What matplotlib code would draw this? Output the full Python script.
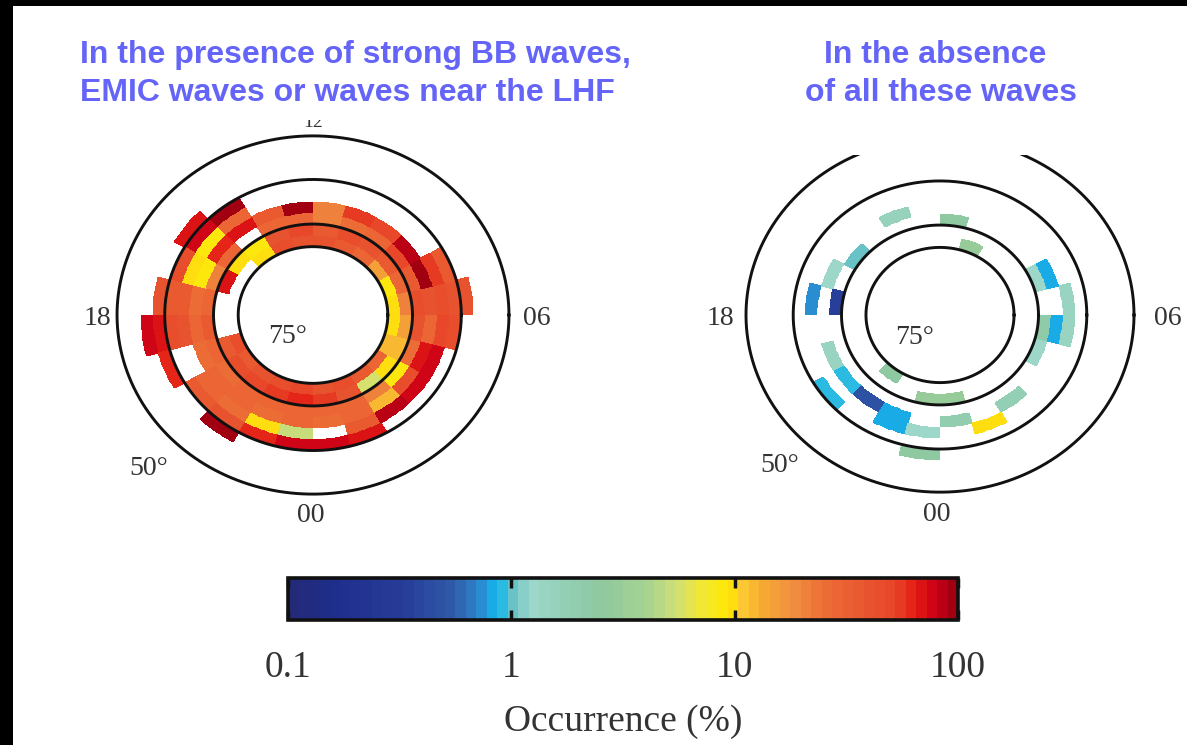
import numpy as np
import matplotlib
matplotlib.use("Agg")
import matplotlib.pyplot as plt
from matplotlib.colors import LinearSegmentedColormap, LogNorm
from matplotlib.patches import Rectangle
from matplotlib.ticker import FixedLocator, FixedFormatter, NullLocator

N = np.nan

# ---------------- data ----------------
mlt_hours = list(range(24))                        # MLT bins [h, h+1)
lat_edges = [75, 72.5, 70, 67.5, 65, 62.5, 60, 57.5, 55]   # invariant latitude bin edges
circle_lats = [75, 70, 60, 50]
lat_labels = ["75°", "50°"]
mlt_labels = ["00", "06", "12", "18"]

# occurrence (%) with strong BB / EMIC / LHF waves; rows: 72.5-75, 70-72.5, ..., 55-57.5
occ_with = [
    [40, 45, 35, 30, 12, 10, 10, 9, 15, 30, 35, 40, 40, 45, 10, N, N, N, N, 45, 35, 40, 45, 50],
    [55, 40, 6, 10, 12, 15, 20, 30, 35, 40, 45, 35, 50, 40, 9, 10, 70, N, N, 35, 45, 50, 55, 60],
    [30, 28, 20, 9, 25, 40, 45, 35, 50, 28, 25, 20, 30, 28, N, 28, 22, 30, 35, 30, 25, 28, 30, 28],
    [25, 30, 12, 45, 70, 30, 40, 90, 85, 50, 55, 22, 90, 35, 70, 60, 9, 25, 30, 25, 30, 28, 25, 28],
    [N, 35, 85, 75, 80, 50, 45, 55, N, N, N, N, N, N, 30, 9, 10, 35, 40, N, 30, 25, 10, 5],
    [75, 70, N, N, N, 45, 40, 35, N, N, N, N, N, N, 90, 80, 45, 35, 45, N, 35, 40, 60, 75],
    [N, N, N, N, N, N, 40, N, N, N, N, N, N, N, N, 70, N, 40, 65, 60, N, 95, N, N],
    [N, N, N, N, N, N, N, N, N, N, N, N, N, N, N, N, N, N, 75, N, N, N, N, N],
]

# occurrence (%) in the absence of these waves
occ_without = [
    [N, N, N, N, N, N, N, N, N, N, 3, N, N, N, N, N, N, N, N, N, N, 2.5, N, N],
    [3, N, N, N, N, N, N, N, N, N, N, N, N, N, N, N, N, N, N, N, N, N, N, 3],
    [N, N, N, N, 1.3, 2.2, N, 1.2, N, N, N, 2.5, N, N, N, 1.0, N, 0.35, N, N, N, N, N, N],
    [2.0, N, 1.8, N, N, 0.85, N, 0.85, N, N, N, N, N, 1.6, N, N, 1.3, N, N, 1.4, 0.9, 0.5, 0.8, N],
    [N, 10, N, N, N, 1.4, 1.4, N, N, N, N, N, N, N, N, N, N, 0.7, N, N, N, N, 0.8, 1.3],
    [N, N, N, N, N, N, N, N, N, N, N, N, N, N, N, N, N, N, N, N, 0.9, N, N, N],
    [N, N, N, N, N, N, N, N, N, N, N, N, N, N, N, N, N, N, N, N, N, N, N, 2.5],
    [N] * 24,
]

cbar_ticks = [0.1, 1, 10, 100]
cbar_ticklabels = ["0.1", "1", "10", "100"]

titles_left = ["In the presence of strong BB waves,", "EMIC waves or waves near the LHF"]
titles_right = ["In the absence", "of all these waves"]

# ---------------- colormap ----------------
cmap_pts = [
    (0.000, "#232a78"), (0.063, "#1e2e8c"), (0.167, "#273c98"), (0.242, "#2f5aa8"),
    (0.279, "#2f82c8"), (0.309, "#12b8ee"), (0.324, "#3ebcd8"), (0.334, "#6cc2c4"),
    (0.361, "#9dd8cc"), (0.406, "#94d0b8"), (0.466, "#8ec8a0"), (0.540, "#a8d490"),
    (0.585, "#d4e070"), (0.622, "#f4e830"), (0.660, "#ffe800"), (0.682, "#fcc832"),
    (0.712, "#f5aa32"), (0.757, "#f09040"), (0.801, "#ec7036"), (0.869, "#e85530"),
    (0.913, "#e84428"), (0.943, "#e41c14"), (0.973, "#cc0018"), (1.000, "#a00010"),
]
cmap = LinearSegmentedColormap.from_list("occ", cmap_pts, N=64)
norm = LogNorm(vmin=0.1, vmax=100)

W, H = 1187, 745
fig = plt.figure(figsize=(W / 100, H / 100), dpi=100)
fig.patch.set_facecolor("white")


def px_axes(left, top, right, bottom):
    return fig.add_axes([left / W, 1 - bottom / H, (right - left) / W, (bottom - top) / H])


def proj(lat):
    colat = np.radians(90 - np.asarray(lat, dtype=float))
    return 2 * np.sin(colat / 2) * 180 / np.pi


def theta(mlt):
    return (np.asarray(mlt, dtype=float) - 6) * np.pi / 12


serif = ["Liberation Serif", "DejaVu Serif"]
lab_color = "#333333"
sub = 8


def draw_panel(ax, values, lab_pos):
    vals = np.array(values, dtype=float)
    vals_f = np.repeat(vals, sub, axis=1)
    mlt_f = np.linspace(0, 24, 24 * sub + 1)
    R, T = np.meshgrid(proj(lat_edges), theta(mlt_f), indexing="ij")
    X, Y = R * np.cos(T), R * np.sin(T)
    ax.pcolormesh(X, Y, np.ma.masked_invalid(vals_f), cmap=cmap, norm=norm,
                  shading="flat", zorder=1)
    tt = np.linspace(0, 2 * np.pi, 400)
    for lat in circle_lats:
        r = proj(lat)
        ax.plot(r * np.cos(tt), r * np.sin(tt), color="#111111", lw=2.1, zorder=3)
    for txt, (x, y, clip, fs, va) in lab_pos.items():
        ax.text(x, y, txt, ha="center", va=va, fontsize=fs, family=serif,
                color=lab_color, clip_on=clip, zorder=4)
    ax.set_axis_off()


# left panel: center (313,315) px, scale 5.0 x 4.57 px/unit
cx, cy, sx, sy = 313, 315, 5.0, 4.57
axL = px_axes(cx - 46 * sx, 120, cx + 46 * sx, cy + 46 * sy)
axL.set_xlim(-46, 46)
axL.set_ylim(-46, (cy - 120) / sy)
draw_panel(axL, occ_with, {
    "18": (-43.2, -0.7, False, 20, "center"), "06": (44.8, -0.7, False, 20, "center"),
    "00": (-0.4, -43.8, False, 20, "center"),
    "12": (0, (cy - 127) / sy, True, 14, "baseline"),
    "50°": (-32.8, -33.5, False, 20, "center"), "75°": (-5.0, -4.8, False, 20, "center")})

# right panel: center (940,315) px, scale 4.95 x 4.52 px/unit, clipped at top (y=155 px)
cx, cy, sx, sy = 940, 315, 4.95, 4.52
axR = px_axes(cx - 46 * sx, 155, cx + 46 * sx, cy + 46 * sy)
axR.set_xlim(-46, 46)
axR.set_ylim(-46, (cy - 155) / sy)
draw_panel(axR, occ_without, {
    "18": (-44.4, -0.7, False, 20, "center"), "06": (46.0, -0.7, False, 20, "center"),
    "00": (-0.6, -44.2, False, 20, "center"),
    "50°": (-32.3, -33.2, False, 20, "center"), "75°": (-5.05, -4.9, False, 20, "center")})

# titles
tcol = "#6464f8"
tfont = dict(fontsize=23, fontweight="bold", family=["Liberation Sans", "DejaVu Sans"], color=tcol)
fig.text(80 / W, 1 - 63 / H, titles_left[0], ha="left", va="baseline", **tfont)
fig.text(80 / W, 1 - 101 / H, titles_left[1], ha="left", va="baseline", **tfont)
fig.text(935 / W, 1 - 63 / H, titles_right[0], ha="center", va="baseline", **tfont)
fig.text(941 / W, 1 - 101 / H, titles_right[1], ha="center", va="baseline", **tfont)

# colorbar
cax = px_axes(288, 578, 958, 620)
sm = matplotlib.cm.ScalarMappable(norm=norm, cmap=cmap)
cb = fig.colorbar(sm, cax=cax, orientation="horizontal")
cb.outline.set_linewidth(2.6)
cb.outline.set_edgecolor("#111111")
cax.xaxis.set_major_locator(FixedLocator(cbar_ticks))
cax.xaxis.set_major_formatter(FixedFormatter(cbar_ticklabels))
cax.xaxis.set_minor_locator(NullLocator())
cax.tick_params(axis="x", which="major", direction="in", length=7, width=2.5,
                top=True, bottom=True, color="#111111", labelsize=27, pad=22,
                labelcolor=lab_color)
for lbl in cax.get_xticklabels():
    lbl.set_family(serif)
cax.set_xlabel("Occurrence (%)", fontsize=27, family=serif, color=lab_color, labelpad=14)

# black frame strips (top and left)
fig.patches.append(Rectangle((0, 1 - 6 / H), 1, 6 / H, transform=fig.transFigure,
                             facecolor="black", edgecolor="none", zorder=10))
fig.patches.append(Rectangle((0, 0), 13 / W, 1, transform=fig.transFigure,
                             facecolor="black", edgecolor="none", zorder=10))

fig.savefig("out.png", dpi=100, facecolor="white")
